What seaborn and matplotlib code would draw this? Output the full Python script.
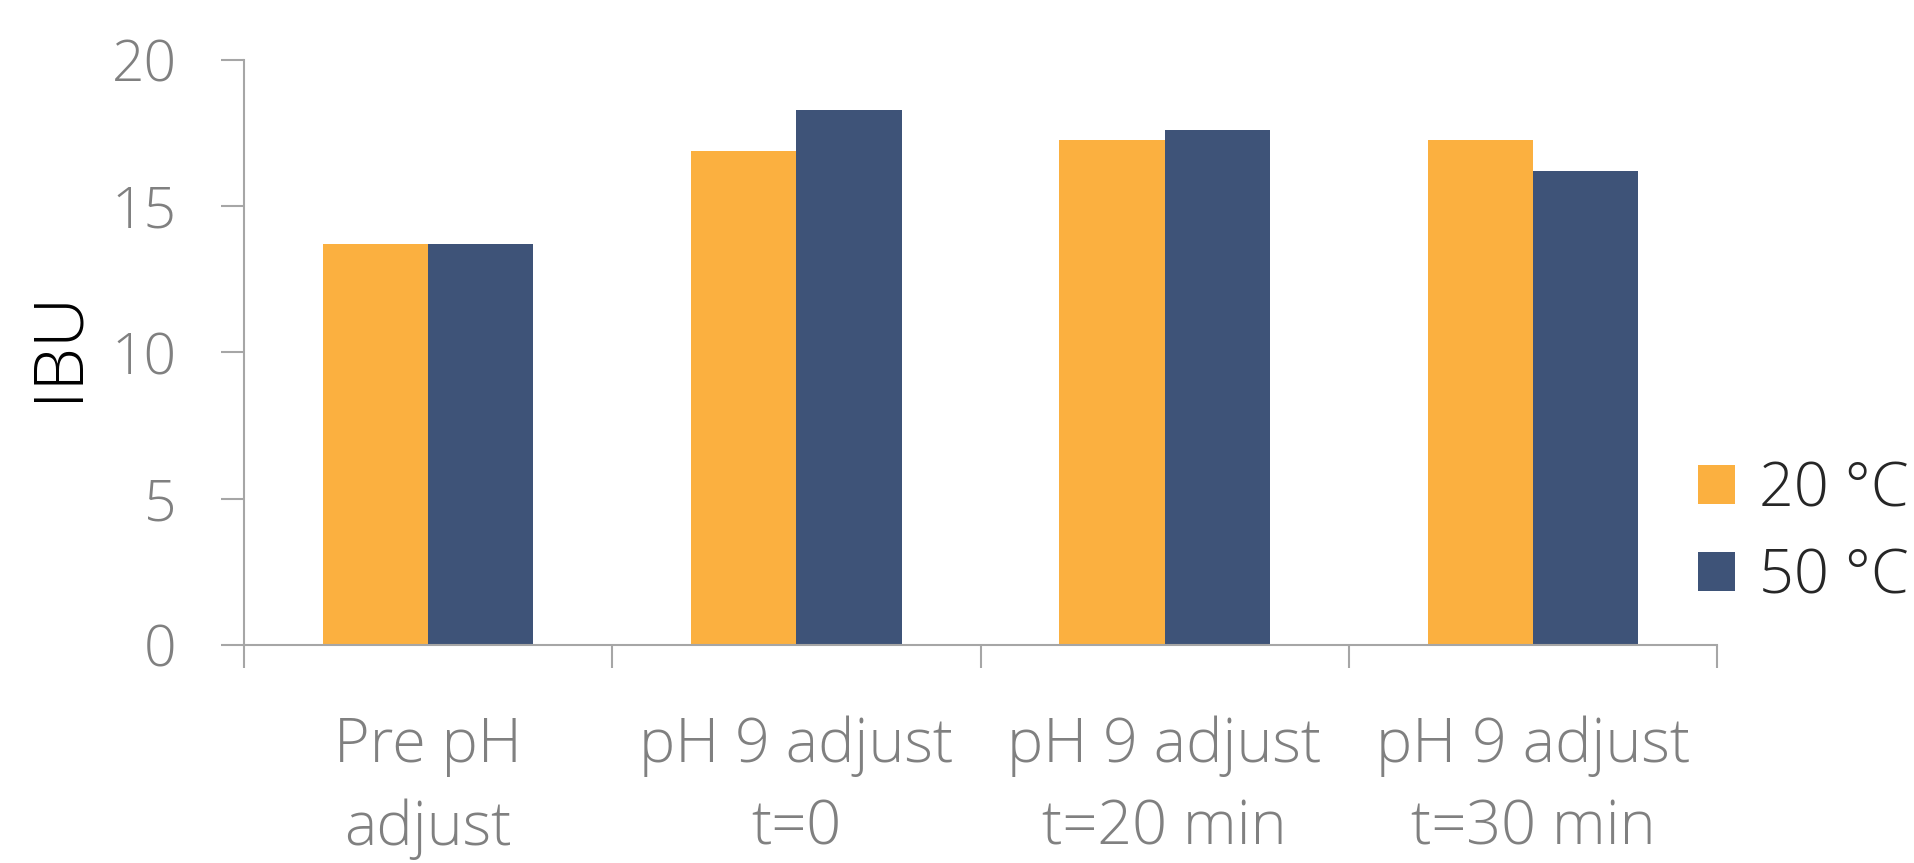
import matplotlib
matplotlib.use("Agg")
import matplotlib.pyplot as plt
from matplotlib.patches import Patch
import seaborn as sns
import pandas as pd

# Data
categories = ["Pre pH\nadjust", "pH 9 adjust\nt=0", "pH 9 adjust\nt=20 min", "pH 9 adjust\nt=30 min"]
series_names = ["20 °C", "50 °C"]
ibu_20c = [13.7, 16.9, 17.25, 17.25]
ibu_50c = [13.7, 18.3, 17.6, 16.2]
y_ticks = [0, 5, 10, 15, 20]

colors = ["#FBB040", "#3E5378"]
axis_gray = "#A6A6A6"
label_gray = "#808080"

df = pd.DataFrame({
    "category": categories * 2,
    "series": [series_names[0]] * 4 + [series_names[1]] * 4,
    "IBU": ibu_20c + ibu_50c,
})

sns.set_theme(style="white")
plt.rcParams["font.family"] = ["Open Sans", "DejaVu Sans"]

fig = plt.figure(figsize=(19.14, 8.63), dpi=100)
ax = fig.add_axes([244 / 1914, 1 - 645 / 863, (1717 - 244) / 1914, (645 - 60) / 863])

sns.barplot(data=df, x="category", y="IBU", hue="series", order=categories,
            hue_order=series_names, palette=colors, width=0.572, gap=0,
            saturation=1, errorbar=None, legend=False, ax=ax, linewidth=0)

ax.set_xlim(-0.5, len(categories) - 0.5)
ax.set_ylim(0, 20)
ax.set_yticks(y_ticks)
ax.set_yticklabels([str(t) for t in y_ticks])

# boundary ticks between categories, labels centred under each group
ax.set_xticks([i - 0.5 for i in range(len(categories) + 1)])
ax.set_xticklabels([])
ax.set_xticks(range(len(categories)), minor=True)
ax.set_xticklabels(categories, minor=True, fontsize=44, color=label_gray,
                   fontweight="light", linespacing=1.45)
ax.tick_params(axis="x", which="minor", length=0, pad=51)
ax.tick_params(axis="x", which="major", length=16.5, width=1.5, color=axis_gray,
               direction="out", bottom=True)
ax.tick_params(axis="y", length=16.5, width=1.5, color=axis_gray, direction="out",
               left=True, labelsize=41, labelcolor=label_gray, pad=32)
for lab in ax.get_yticklabels():
    lab.set_fontweight("light")

for side in ["top", "right"]:
    ax.spines[side].set_visible(False)
for side in ["left", "bottom"]:
    ax.spines[side].set_color(axis_gray)
    ax.spines[side].set_linewidth(1.5)

ax.set_xlabel("")
ax.set_ylabel("")
fig.text(59 / 1914, 1 - 345 / 863, "IBU", rotation=90, ha="center", va="center",
         fontsize=50, color="black", fontweight="light")

handles = [Patch(facecolor=c, edgecolor="none") for c in colors]
fig.legend(handles, series_names, loc="center left",
           bbox_to_anchor=(1698 / 1914, 1 - 534 / 863), frameon=False,
           handlelength=0.6, handleheight=0.6, handletextpad=0.4,
           labelspacing=0.42, borderaxespad=0, borderpad=0,
           prop={"weight": "light", "size": 44})

fig.savefig("out.png", dpi=100, facecolor="white")
